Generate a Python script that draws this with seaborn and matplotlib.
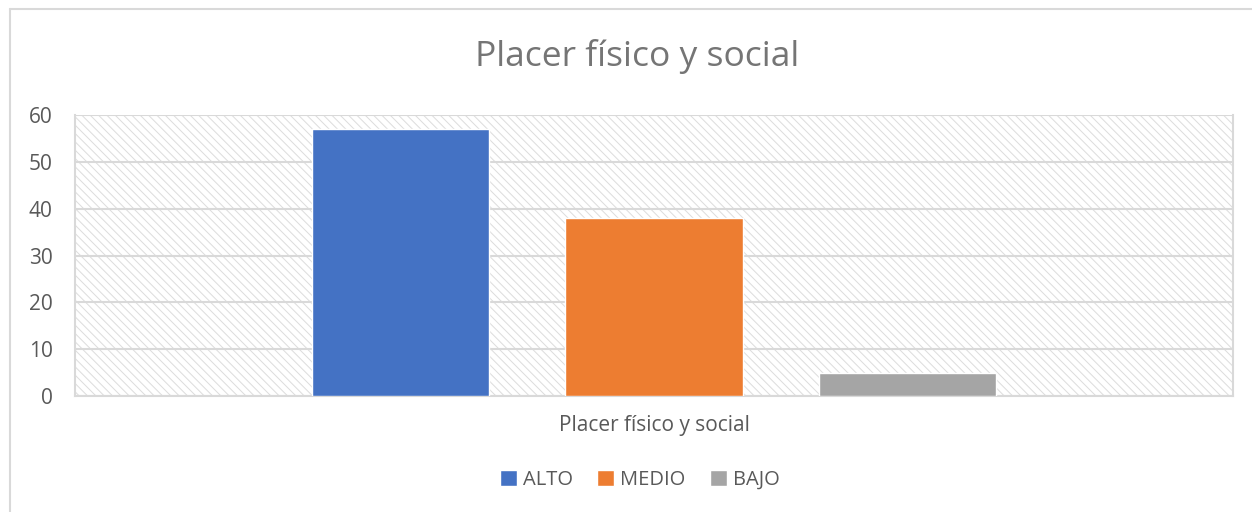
import pandas as pd
import matplotlib
matplotlib.use("Agg")
import matplotlib.pyplot as plt
from matplotlib.patches import Rectangle
from matplotlib.lines import Line2D
import seaborn as sns

# datos
categoria = ["Placer físico y social"]
niveles = ["ALTO", "MEDIO", "BAJO"]
valores = [57, 38, 5]
colores = ["#4472C4", "#ED7D31", "#A5A5A5"]
yticks = [0, 10, 20, 30, 40, 50, 60]

df = pd.DataFrame({
    "categoria": categoria * len(niveles),
    "nivel": niveles,
    "valor": valores,
})

sns.set_theme(style="white")
plt.rcParams['font.family'] = ['Open Sans', 'DejaVu Sans']
plt.rcParams['hatch.linewidth'] = 0.7

texto = "#595959"
gris = "#d9d9d9"

fig = plt.figure(figsize=(12.52, 5.12), dpi=100)
ax = fig.add_axes([75 / 1252, 1 - 396 / 512, (1233 - 75) / 1252, (396 - 115) / 512])

# fondo rayado del area de trazado
ax.add_patch(Rectangle((0, 0), 1, 1, transform=ax.transAxes, facecolor="white",
                       edgecolor="#dcdcdc", hatch="\\\\\\\\", linewidth=0, zorder=0))

sns.barplot(data=df, x="categoria", y="valor", hue="nivel", hue_order=niveles,
            palette=colores, width=0.657, gap=0.30, saturation=1, ax=ax, zorder=3,
            legend=False)

ax.set_xlim(-0.5, 0.5)
ax.set_ylim(0, 60)
ax.set_yticks(yticks)
ax.yaxis.grid(True, color=gris, linewidth=1.5, zorder=1)
ax.set_axisbelow(True)
for s in ax.spines.values():
    s.set_color(gris)
    s.set_linewidth(1.5)
ax.spines["top"].set_visible(False)

ax.tick_params(axis="y", labelsize=15, labelcolor=texto, length=0, pad=16)
ax.tick_params(axis="x", labelsize=15, labelcolor=texto, length=0, pad=14)
ax.set_xlabel("")
ax.set_ylabel("")

fig.text(0.509, 1 - 57 / 512, "Placer físico y social", ha="center", va="center",
         fontsize=25.5, color="#757575")

handles = [Rectangle((0, 0), 1, 1, facecolor=c) for c in colores]
fig.legend(handles, niveles, loc="center", bbox_to_anchor=(0.511, 1 - 480 / 512),
           ncol=3, frameon=False, fontsize=14.5, labelcolor=texto,
           handlelength=0.85, handleheight=0.85, handletextpad=0.3, columnspacing=1.2)

# marco del grafico
fig.add_artist(Line2D([10 / 1252, 10 / 1252], [0, 1 - 9 / 512], color=gris, linewidth=1.5,
                      transform=fig.transFigure))
fig.add_artist(Line2D([10 / 1252, 1], [1 - 9 / 512, 1 - 9 / 512], color=gris, linewidth=1.5,
                      transform=fig.transFigure))

fig.savefig("out.png", dpi=100)
